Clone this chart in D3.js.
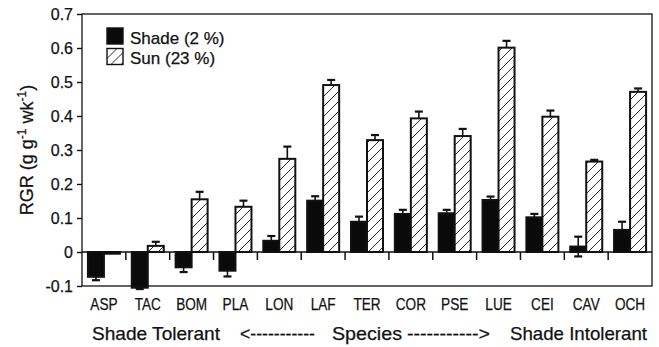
<!DOCTYPE html>
<html>
<head>
<meta charset="utf-8">
<script src="https://cdn.jsdelivr.net/npm/d3@7/dist/d3.min.js"></script>
<style>
  html, body { margin: 0; padding: 0; background: #fff; }
  svg { display: block; }
  text { font-family: Arial, "Liberation Sans", Helvetica, sans-serif; fill: #111; stroke: #111; stroke-width: 0.25px; }
</style>
</head>
<body>
<svg id="chart" width="659" height="347"></svg>
<script>
// Species ordered from shade tolerant to shade intolerant
const species = ["ASP", "TAC", "BOM", "PLA", "LON", "LAF", "TER", "COR", "PSE", "LUE", "CEI", "CAV", "OCH"];
// Relative growth rate (g g-1 wk-1) and standard errors
const shadeRGR = [-0.073, -0.105, -0.045, -0.055, 0.033, 0.151, 0.089, 0.112, 0.114, 0.153, 0.102, 0.016, 0.065];
const shadeErr = [0.010, 0.004, 0.014, 0.017, 0.014, 0.013, 0.015, 0.012, 0.010, 0.010, 0.010, 0.029, 0.024];
const sunRGR   = [-0.005, 0.018, 0.155, 0.133, 0.274, 0.491, 0.329, 0.393, 0.341, 0.601, 0.398, 0.266, 0.471];
const sunErr   = [0.000, 0.012, 0.022, 0.018, 0.036, 0.015, 0.015, 0.020, 0.021, 0.020, 0.018, 0.005, 0.010];
const yTicks = [-0.1, 0, 0.1, 0.2, 0.3, 0.4, 0.5, 0.6, 0.7];
const legendLabels = ["Shade (2 %)", "Sun (23 %)"];

const svg = d3.select("#chart");
const plotL = 82, plotR = 652, plotT = 14, plotB = 286;

const x = d3.scaleBand().domain(species).range([plotL, plotR]).padding(0);
const y = d3.scaleLinear().domain([-0.1, 0.7]).range([plotB, plotT]);
const barW = x.bandwidth() * 0.365;

// diagonal hatch for the sun treatment
const defs = svg.append("defs");
const pat = defs.append("pattern")
  .attr("id", "hatch").attr("patternUnits", "userSpaceOnUse")
  .attr("width", 10).attr("height", 10);
pat.append("rect").attr("width", 10).attr("height", 10).attr("fill", "#fff");
pat.append("path")
  .attr("d", "M-2,2 L2,-2 M0,10 L10,0 M8,12 L12,8")
  .attr("stroke", "#111").attr("stroke-width", 0.9);

const series = [
  { name: "shade", vals: shadeRGR, errs: shadeErr, offset: -barW, fill: "#0a0a0a" },
  { name: "sun",   vals: sunRGR,   errs: sunErr,   offset: 0,     fill: "url(#hatch)" }
];

// error bars (drawn first so that the bars cover the inner half)
series.forEach(s => {
  const g = svg.append("g").attr("class", "err-" + s.name)
    .attr("stroke", "#111").attr("fill", "none");
  const d = species.map((c, i) => ({ c, v: s.vals[i], e: s.errs[i] })).filter(d => d.e > 0);
  const cx = d => x(d.c) + x.bandwidth() / 2 + s.offset + barW / 2;
  g.selectAll("line.v").data(d).join("line").attr("class", "v")
    .attr("x1", cx).attr("x2", cx)
    .attr("y1", d => y(d.v - d.e)).attr("y2", d => y(d.v + d.e))
    .attr("stroke-width", 1.6);
  ["lo", "hi"].forEach(k => {
    g.selectAll("line." + k).data(d).join("line").attr("class", k)
      .attr("x1", d => cx(d) - 4).attr("x2", d => cx(d) + 4)
      .attr("y1", d => y(k === "hi" ? d.v + d.e : d.v - d.e))
      .attr("y2", d => y(k === "hi" ? d.v + d.e : d.v - d.e))
      .attr("stroke-width", 2.2);
  });
});

// bars
series.forEach(s => {
  svg.append("g").attr("class", "bars-" + s.name)
    .selectAll("rect")
    .data(species.map((c, i) => ({ c, v: s.vals[i] })))
    .join("rect")
    .attr("x", d => x(d.c) + x.bandwidth() / 2 + s.offset)
    .attr("width", barW)
    .attr("y", d => y(Math.max(0, d.v)))
    .attr("height", d => Math.abs(y(d.v) - y(0)))
    .attr("fill", s.fill)
    .attr("stroke", "#111")
    .attr("stroke-width", 2);
});

// zero line with separators hanging below it
svg.append("line")
  .attr("x1", plotL).attr("x2", plotR).attr("y1", y(0)).attr("y2", y(0))
  .attr("stroke", "#111").attr("stroke-width", 1.5);
svg.append("g").selectAll("line").data(species.slice(1)).join("line")
  .attr("x1", d => x(d)).attr("x2", d => x(d))
  .attr("y1", y(0)).attr("y2", y(0) + 8)
  .attr("stroke", "#111").attr("stroke-width", 1.5);

// frame
svg.append("rect")
  .attr("x", plotL).attr("y", plotT).attr("width", plotR - plotL).attr("height", plotB - plotT)
  .attr("fill", "none").attr("stroke", "#111").attr("stroke-width", 1.3);

// y axis
const yAxis = svg.append("g").attr("transform", `translate(${plotL},0)`)
  .call(d3.axisLeft(y).tickValues(yTicks).tickSize(5).tickPadding(4)
    .tickFormat(d => d === 0 ? "0" : (d < 0 ? "-" : "") + Math.abs(d).toFixed(1)));
yAxis.select(".domain").remove();
yAxis.selectAll("line").attr("stroke", "#111").attr("stroke-width", 1.4);
yAxis.selectAll("text").attr("font-size", 16).attr("fill", "#111")
  .style("font-family", "Arial, 'Liberation Sans', sans-serif");

// species labels
const xAxis = svg.append("g").attr("transform", `translate(0,${plotB})`)
  .call(d3.axisBottom(x).tickSize(0).tickPadding(12));
xAxis.select(".domain").remove();
xAxis.selectAll("text").attr("font-size", 17).attr("fill", "#111")
  .style("font-family", "Arial, 'Liberation Sans', sans-serif")
  .each(function () {
    const w = this.getComputedTextLength();
    d3.select(this).attr("textLength", w * 0.8).attr("lengthAdjust", "spacingAndGlyphs");
  });

// y title
const yTitle = svg.append("text")
  .attr("transform", "translate(33,150) rotate(-90)")
  .attr("text-anchor", "middle").attr("font-size", 18);
yTitle.append("tspan").text("RGR (g g");
yTitle.append("tspan").attr("font-size", 12).attr("dy", -7).text("-1");
yTitle.append("tspan").attr("dy", 7).text(" wk");
yTitle.append("tspan").attr("font-size", 12).attr("dy", -7).text("-1");
yTitle.append("tspan").attr("dy", 7).text(")");

// legend
const legend = svg.append("g").attr("transform", "translate(107,28)");
legendLabels.forEach((lab, i) => {
  const g = legend.append("g").attr("transform", `translate(0,${i * 20.5})`);
  g.append("rect").attr("width", 16).attr("height", 16)
    .attr("fill", i === 0 ? "#0a0a0a" : "url(#hatch)")
    .attr("stroke", "#111").attr("stroke-width", 1.4);
  g.append("text").attr("x", 23).attr("y", 15.5).attr("font-size", 17).text(lab);
});

// gradient caption beneath the species
const caption = [
  { t: "Shade Tolerant", x: 92, w: 128 },
  { t: "<-----------", x: 240, w: 75 },
  { t: "Species", x: 332, w: 70 },
  { t: "----------->", x: 407, w: 83 },
  { t: "Shade Intolerant", x: 510, w: 137 }
];
svg.append("g").selectAll("text").data(caption).join("text")
  .attr("x", d => d.x).attr("y", 340).attr("font-size", 18.5)
  .attr("textLength", d => d.w).attr("lengthAdjust", "spacingAndGlyphs")
  .text(d => d.t);
</script>
</body>
</html>
